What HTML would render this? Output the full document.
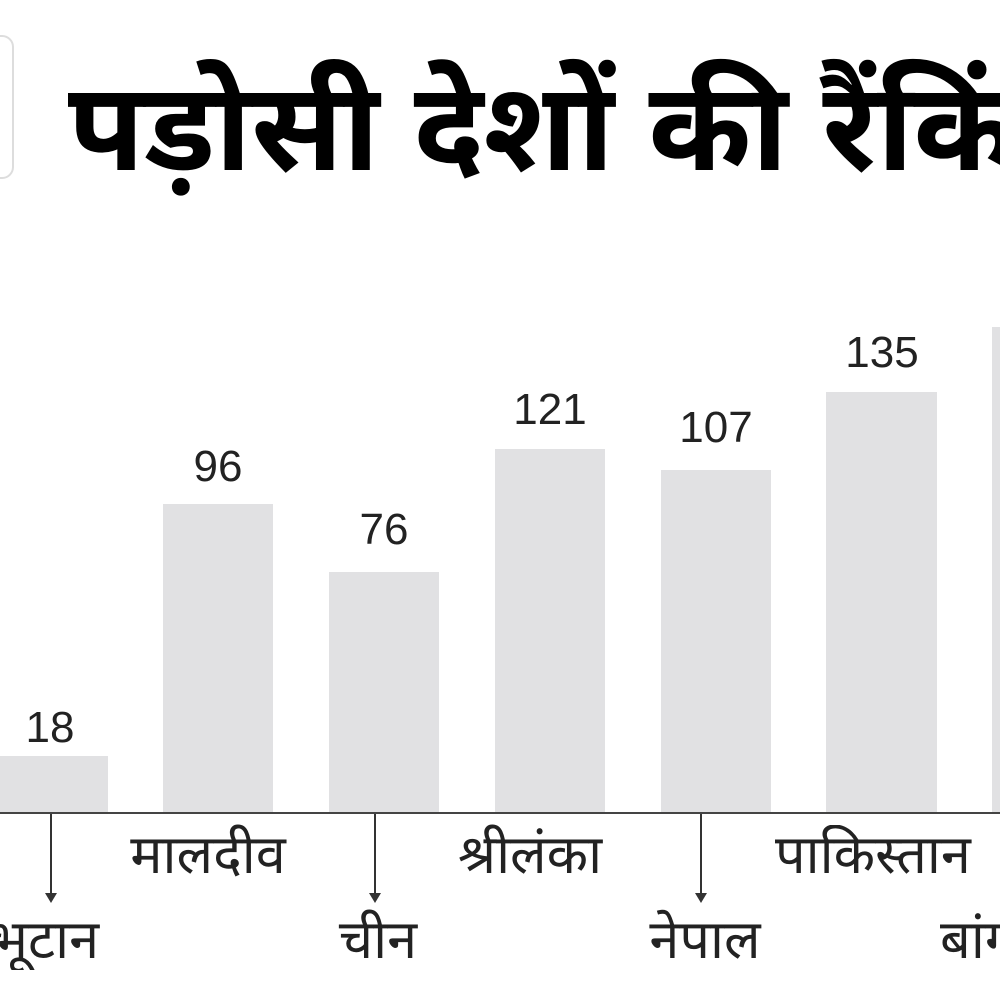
<!DOCTYPE html>
<html><head><meta charset="utf-8"><style>
body{margin:0;width:1000px;height:1000px;overflow:hidden;background:#fff;position:relative;font-family:"Liberation Sans","Noto Sans Devanagari","Lohit Devanagari","FreeSans",sans-serif;}
.a{position:absolute;}
.bar{position:absolute;background:#e1e1e3;bottom:188px;}
.v{position:absolute;font-size:44px;color:#222;text-align:center;width:140px;line-height:44px;}
.l{position:absolute;font-size:54px;color:#222;text-align:center;width:300px;line-height:60px;white-space:nowrap;}
.ar{position:absolute;width:1.5px;background:#333;top:814px;height:84px;}
.ah{position:absolute;top:893px;width:0;height:0;border-left:6px solid transparent;border-right:6px solid transparent;border-top:10px solid #333;}
</style></head><body>
<div class="a" style="left:-20px;top:35px;width:30px;height:140px;border:2px solid #ddd;border-radius:12px;"></div>
<div class="a" style="left:68px;top:48px;font-size:124px;font-weight:bold;color:#000;white-space:nowrap;line-height:160px;width:932px;overflow:hidden;">पड़ोसी देशों की रैंकिंग</div>

<div class="bar" style="left:0;width:108px;top:756px;"></div>
<div class="bar" style="left:163px;width:110px;top:504px;"></div>
<div class="bar" style="left:329px;width:110px;top:572px;"></div>
<div class="bar" style="left:495px;width:110px;top:449px;"></div>
<div class="bar" style="left:661px;width:110px;top:470px;"></div>
<div class="bar" style="left:826px;width:111px;top:392px;"></div>
<div class="bar" style="left:992px;width:8px;top:327px;"></div>
<div class="a" style="left:0;top:812px;width:1000px;height:2px;background:#444;"></div>

<div class="v" style="left:-20px;top:706px;">18</div>
<div class="v" style="left:148px;top:445px;">96</div>
<div class="v" style="left:314px;top:508px;">76</div>
<div class="v" style="left:480px;top:388px;">121</div>
<div class="v" style="left:646px;top:406px;">107</div>
<div class="v" style="left:812px;top:331px;">135</div>

<div class="ar" style="left:50px;"></div><div class="ah" style="left:45px;"></div>
<div class="ar" style="left:374px;"></div><div class="ah" style="left:369px;"></div>
<div class="ar" style="left:700px;"></div><div class="ah" style="left:695px;"></div>

<div class="l" style="left:58px;top:825px;">मालदीव</div>
<div class="l" style="left:380px;top:825px;">श्रीलंका</div>
<div class="l" style="left:775px;top:825px;width:225px;overflow:hidden;text-align:left;">पाकिस्तान</div>
<div class="l" style="left:0;top:910px;width:200px;overflow:hidden;text-align:left;"><span style="display:inline-block;margin-left:-10px;">भूटान</span></div>
<div class="l" style="left:228px;top:910px;">चीन</div>
<div class="l" style="left:555px;top:910px;">नेपाल</div>
<div class="a" style="left:940px;top:910px;width:60px;overflow:hidden;"><div class="l" style="position:static;text-align:left;">बांग्लादेश</div></div>
</body></html>
